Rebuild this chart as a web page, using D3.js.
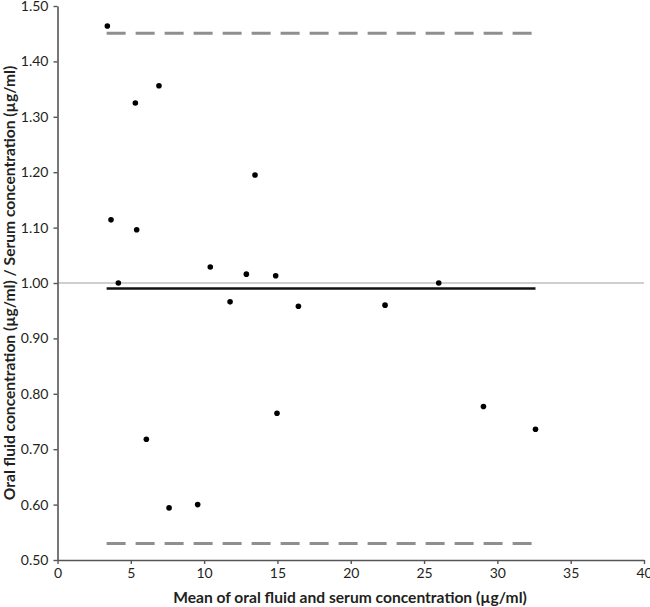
<!DOCTYPE html>
<html>
<head>
<meta charset="utf-8">
<script src="https://cdn.jsdelivr.net/npm/d3@7"></script>
<style>
  body { margin: 0; background: #fff; }
  svg text { font-family: Lato, "Noto Sans", sans-serif; fill: #231f20; }
</style>
</head>
<body>
<div id="chart"></div>
<script>
const meanValues = [3.40, 5.31, 6.92, 3.65, 5.40, 4.15, 10.42, 12.88, 13.47, 14.88,
                    26.0, 11.77, 16.43, 22.34, 6.06, 7.61, 9.56, 14.97, 29.05, 32.6];
const ratioValues = [1.464, 1.325, 1.356, 1.114, 1.096, 1.000, 1.029, 1.016, 1.195, 1.013,
                     1.000, 0.966, 0.958, 0.960, 0.718, 0.594, 0.600, 0.765, 0.777, 0.736];
const meanBias = 0.990;
const upperLimit = 1.451;
const lowerLimit = 0.530;
const referenceRatio = 1.00;
const lineRange = [3.35, 32.6];
const xTicks = [0, 5, 10, 15, 20, 25, 30, 35, 40];
const yTicks = [0.5, 0.6, 0.7, 0.8, 0.9, 1.0, 1.1, 1.2, 1.3, 1.4, 1.5];

const W = 650, H = 607;
const margin = { top: 6, right: 6, bottom: 47, left: 57.5 };

const svg = d3.select('#chart').append('svg')
  .attr('width', W)
  .attr('height', H);

const x = d3.scaleLinear().domain([0, 40]).range([margin.left, W - margin.right]);
const y = d3.scaleLinear().domain([0.5, 1.5]).range([H - margin.bottom, margin.top]);

// thin reference line at ratio 1
svg.append('line')
  .attr('x1', x(0)).attr('x2', x(40))
  .attr('y1', y(referenceRatio)).attr('y2', y(referenceRatio))
  .attr('stroke', '#a0a0a0').attr('stroke-width', 1.2);

// limits of agreement
[upperLimit, lowerLimit].forEach(v => {
  svg.append('line')
    .attr('x1', x(lineRange[0])).attr('x2', x(lineRange[1]))
    .attr('y1', y(v)).attr('y2', y(v))
    .attr('stroke', '#8f8f8f').attr('stroke-width', 3)
    .attr('stroke-dasharray', '19,10');
});

// mean ratio
svg.append('line')
  .attr('x1', x(lineRange[0])).attr('x2', x(lineRange[1]))
  .attr('y1', y(meanBias)).attr('y2', y(meanBias))
  .attr('stroke', '#111').attr('stroke-width', 2.6);

// axes
const xAxis = svg.append('g')
  .attr('transform', `translate(0,${y(0.5)})`)
  .call(d3.axisBottom(x).tickValues(xTicks).tickSize(4).tickSizeOuter(0).tickFormat(d3.format('d')));
const yAxis = svg.append('g')
  .attr('transform', `translate(${x(0)},0)`)
  .call(d3.axisLeft(y).tickValues(yTicks).tickSize(4).tickSizeOuter(0).tickFormat(d3.format('.2f')));

[xAxis, yAxis].forEach(a => {
  a.select('.domain').attr('stroke', '#555').attr('stroke-width', 1.6);
  a.selectAll('.tick line').attr('stroke', '#555').attr('stroke-width', 1.4);
  a.selectAll('.tick text').style('font-size', '14px').attr('fill', '#333');
});
xAxis.selectAll('.tick text').attr('dy', '0.8em');
yAxis.selectAll('.tick text').attr('x', -9);

// points
svg.append('g').selectAll('circle')
  .data(meanValues.map((m, i) => [m, ratioValues[i]]))
  .enter().append('circle')
  .attr('cx', d => x(d[0]))
  .attr('cy', d => y(d[1]))
  .attr('r', 2.8)
  .attr('fill', '#000');

// titles
svg.append('text')
  .attr('x', 350).attr('y', 603)
  .attr('text-anchor', 'middle')
  .style('font-size', '15.6px').style('font-weight', 'bold')
  .text('Mean of oral fluid and serum concentration (µg/ml)');

svg.append('text')
  .attr('transform', `translate(14.5,${(y(0.5) + y(1.5)) / 2}) rotate(-90)`)
  .attr('text-anchor', 'middle')
  .style('font-size', '15.6px').style('font-weight', 'bold')
  .text('Oral fluid concentration (µg/ml) / Serum concentration (µg/ml)');
</script>
</body>
</html>
